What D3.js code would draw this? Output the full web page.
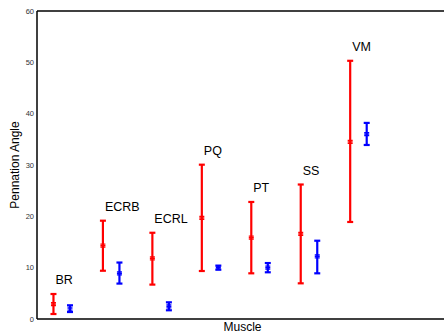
<!DOCTYPE html>
<html>
<head>
<meta charset="utf-8">
<script src="https://cdn.jsdelivr.net/npm/d3@7"></script>
<style>
  body { margin: 0; background: #fff; }
  svg { display: block; font-family: "Liberation Sans", Arial, sans-serif; }
</style>
</head>
<body>
<div id="chart"></div>
<script>
// muscles, red = group 1, blue = group 2 (mean, low, high)
const muscles = ['BR', 'ECRB', 'ECRL', 'PQ', 'PT', 'SS', 'VM'];
const redMean = [2.9, 14.3, 11.8, 19.7, 15.85, 16.6, 34.5];
const redLow  = [0.97, 9.4, 6.7, 9.35, 8.9, 6.95, 18.9];
const redHigh = [4.87, 19.15, 16.8, 30.06, 22.8, 26.2, 50.3];
const blueMean = [2.0, 8.9, 2.47, 10.0, 10.0, 12.2, 36.0];
const blueLow  = [1.36, 6.9, 1.7, 9.6, 9.1, 8.9, 33.9];
const blueHigh = [2.67, 11.0, 3.25, 10.4, 10.9, 15.25, 38.2];
const yTicks = [0, 10, 20, 30, 40, 50, 60];

const width = 444, height = 333;
const margin = {top: 11, right: 0, bottom: 14, left: 37};

const svg = d3.select('#chart').append('svg')
  .attr('width', width)
  .attr('height', height);

const xScale = d3.scaleLinear()
  .domain([0.5, 8.73])
  .range([margin.left, width - margin.right]);
const yScale = d3.scaleLinear()
  .domain([0, 60])
  .range([height - margin.bottom, margin.top]);

// axes box (left, top, bottom)
const box = svg.append('g').attr('stroke', '#000').attr('stroke-width', 1.5).attr('fill', 'none');
box.append('line')
  .attr('x1', xScale.range()[0]).attr('x2', xScale.range()[0])
  .attr('y1', yScale(0)).attr('y2', yScale(60));
box.append('line')
  .attr('x1', xScale.range()[0]).attr('x2', xScale.range()[1] + 2)
  .attr('y1', yScale(60)).attr('y2', yScale(60));
box.append('line')
  .attr('x1', xScale.range()[0]).attr('x2', xScale.range()[1] + 2)
  .attr('y1', yScale(0)).attr('y2', yScale(0));

// y tick labels
svg.append('g')
  .selectAll('text')
  .data(yTicks)
  .enter().append('text')
  .attr('x', margin.left - 3)
  .attr('y', d => yScale(d))
  .attr('dy', '0.35em')
  .attr('text-anchor', 'end')
  .attr('font-size', 7.5)
  .attr('fill', '#333')
  .text(d => d);

svg.append('text')
  .attr('transform', `translate(19, ${yScale(30)}) rotate(-90)`)
  .attr('text-anchor', 'middle')
  .attr('font-size', 12)
  .text('Pennation Angle');

svg.append('text')
  .attr('x', (xScale.range()[0] + xScale.range()[1]) / 2 + 2)
  .attr('y', 331)
  .attr('text-anchor', 'middle')
  .attr('font-size', 12)
  .text('Muscle');

const offset = 0.167;
const series = [
  {color: 'red', shift: -offset, mean: redMean, low: redLow, high: redHigh},
  {color: 'blue', shift: offset, mean: blueMean, low: blueLow, high: blueHigh}
];

series.forEach(s => {
  const rows = muscles.map((m, i) => ({i: i + 1, mean: s.mean[i], low: s.low[i], high: s.high[i]}));
  const g = svg.append('g').attr('stroke', s.color).attr('fill', s.color);
  const bars = g.selectAll('g').data(rows).enter().append('g')
    .attr('transform', d => `translate(${xScale(d.i + s.shift)},0)`);
  bars.append('line')
    .attr('x1', 0).attr('x2', 0)
    .attr('y1', d => yScale(d.low)).attr('y2', d => yScale(d.high))
    .attr('stroke-width', 2.2);
  bars.append('line')
    .attr('x1', -3).attr('x2', 3)
    .attr('y1', d => yScale(d.high)).attr('y2', d => yScale(d.high))
    .attr('stroke-width', 2.2);
  bars.append('line')
    .attr('x1', -3).attr('x2', 3)
    .attr('y1', d => yScale(d.low)).attr('y2', d => yScale(d.low))
    .attr('stroke-width', 2.2);
  // mean marker
  bars.append('path')
    .attr('d', d => {
      const y = yScale(d.mean);
      return `M-2.5,${y - 1.5}L2.5,${y - 1.5}M-2.5,${y + 1.5}L2.5,${y + 1.5}M-2.5,${y}L2.5,${y}`;
    })
    .attr('stroke-width', 1.2);
});

// muscle names
svg.append('g')
  .selectAll('text')
  .data(muscles)
  .enter().append('text')
  .attr('x', (d, i) => xScale(i + 1 - offset) + 2)
  .attr('y', (d, i) => yScale(Math.max(redHigh[i], blueHigh[i]) + 2.8))
  .attr('dy', '0.35em')
  .attr('font-size', 12.5)
  .attr('fill', '#000')
  .text(d => d);
</script>
</body>
</html>
